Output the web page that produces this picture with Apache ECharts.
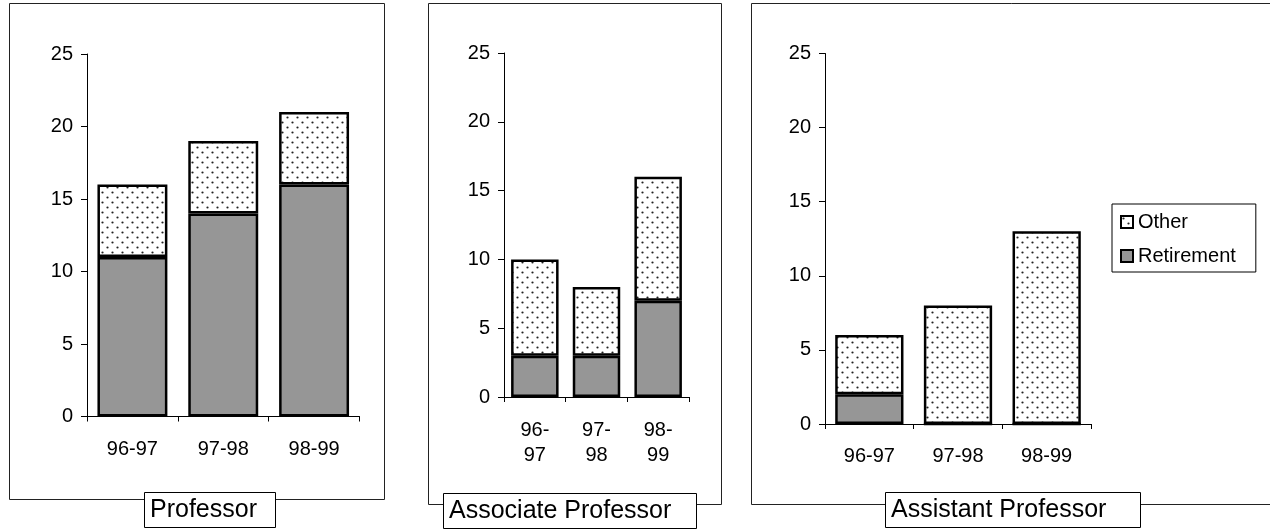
<!DOCTYPE html>
<html>
<head>
<meta charset="utf-8">
<script src="https://cdn.jsdelivr.net/npm/echarts@6/dist/echarts.min.js"></script>
<style>
  html, body { margin: 0; padding: 0; background: #fff; }
  #chart { width: 1270px; height: 531px; }
</style>
</head>
<body>
<div id="chart"></div>
<script>
// ---- data ----
const categories = ['96-97', '97-98', '98-99'];
const panelTitles = ['Professor', 'Associate Professor', 'Assistant Professor'];
const seriesNames = ['Retirement', 'Other'];
const professorRetirement = [11, 14, 16];
const professorOther = [5, 5, 5];
const associateRetirement = [3, 3, 7];
const associateOther = [7, 5, 9];
const assistantRetirement = [2, 0, 0];
const assistantOther = [4, 8, 13];
const yTicks = { min: 0, max: 25, interval: 5 };

// ---- style ----
const FONT = '"Liberation Sans", Arial, sans-serif';
const GRAY = '#969696';

function makeDotPattern() {
  const c = document.createElement('canvas');
  c.width = 10; c.height = 10;
  const ctx = c.getContext('2d');
  ctx.fillStyle = '#fff';
  ctx.fillRect(0, 0, 10, 10);
  ctx.fillStyle = '#222';
  [[2.5, 2.5], [7.5, 7.5]].forEach(function (p) {
    ctx.beginPath();
    ctx.arc(p[0], p[1], 1.1, 0, Math.PI * 2);
    ctx.fill();
  });
  return c;
}
const dotPattern = { image: makeDotPattern(), repeat: 'repeat' };

const grids = [
  { left: 87, top: 54, width: 272.5, height: 362.5 },
  { left: 504, top: 53, width: 185, height: 344 },
  { left: 825, top: 53.5, width: 266, height: 370.5 }
];
const labelMargins = [23, 21, 22];

const xAxes = grids.map(function (g, i) {
  return {
    type: 'category',
    gridIndex: i,
    data: categories,
    axisLine: { lineStyle: { color: '#000', width: 1 } },
    axisTick: { show: true, length: 5, lineStyle: { color: '#000' } },
    axisLabel: {
      color: '#000',
      fontFamily: FONT,
      fontSize: 20,
      lineHeight: i === 1 ? 25 : 20,
      margin: labelMargins[i],
      interval: 0,
      formatter: i === 1 ? function (v) { return v.replace('-', '-\n'); } : undefined
    }
  };
});

const yAxes = grids.map(function (g, i) {
  return {
    type: 'value',
    gridIndex: i,
    min: yTicks.min,
    max: yTicks.max,
    interval: yTicks.interval,
    splitLine: { show: false },
    axisLine: { show: true, lineStyle: { color: '#000', width: 1 } },
    axisTick: { show: true, length: 6, lineStyle: { color: '#000' } },
    axisLabel: { color: '#000', fontFamily: FONT, fontSize: 20, margin: 14 }
  };
});

const panelData = [
  [professorRetirement, professorOther],
  [associateRetirement, associateOther],
  [assistantRetirement, assistantOther]
];

const series = [];
panelData.forEach(function (pd, i) {
  series.push({
    name: seriesNames[0], type: 'bar', stack: 's' + i,
    xAxisIndex: i, yAxisIndex: i, data: pd[0],
    barCategoryGap: '23%',
    itemStyle: { color: GRAY, borderColor: '#000', borderWidth: 2.5 },
    emphasis: { disabled: true }
  });
  series.push({
    name: seriesNames[1], type: 'bar', stack: 's' + i,
    xAxisIndex: i, yAxisIndex: i, data: pd[1],
    barCategoryGap: '23%',
    itemStyle: { color: dotPattern, borderColor: '#000', borderWidth: 2.5 },
    emphasis: { disabled: true }
  });
});

const titleBoxes = [
  { left: 144, top: 492, padding: [4, 19, 4, 6] },
  { left: 443, top: 493, padding: [4, 25, 4, 6] },
  { left: 885, top: 492, padding: [4, 34, 4, 6] }
];

const titles = panelTitles.map(function (t, i) {
  return {
    text: t,
    left: titleBoxes[i].left,
    top: titleBoxes[i].top,
    padding: titleBoxes[i].padding,
    backgroundColor: '#fff',
    borderColor: '#000',
    borderWidth: 1,
    z: 20,
    textStyle: { fontFamily: FONT, fontSize: 25, fontWeight: 'normal', color: '#000', lineHeight: 28 }
  };
});

const frames = [
  { x: 9.5, y: 3.5, width: 375, height: 496 },
  { x: 428.5, y: 3.5, width: 293, height: 501 },
  { x: 751.5, y: 3.5, width: 600, height: 501 }
];

const chart = echarts.init(document.getElementById('chart'), null, { renderer: 'canvas' });
chart.setOption({
  animation: false,
  backgroundColor: '#fff',
  title: titles,
  graphic: frames.map(function (f) {
    return {
      type: 'rect', z: 0, silent: true,
      shape: f,
      style: { fill: 'none', stroke: '#222', lineWidth: 1 }
    };
  }),
  legend: {
    data: ['Other', 'Retirement'],
    orient: 'vertical',
    left: 1112,
    top: 204,
    padding: [7, 20, 5, 8],
    itemGap: 12,
    itemWidth: 12,
    itemHeight: 12,
    icon: 'rect',
    borderColor: '#000',
    borderWidth: 1,
    backgroundColor: '#fff',
    selectedMode: false,
    textStyle: { fontFamily: FONT, fontSize: 20, color: '#000', lineHeight: 22 },
    itemStyle: { borderColor: '#000', borderWidth: 2 }
  },
  grid: grids,
  xAxis: xAxes,
  yAxis: yAxes,
  series: series
});
</script>
</body>
</html>
